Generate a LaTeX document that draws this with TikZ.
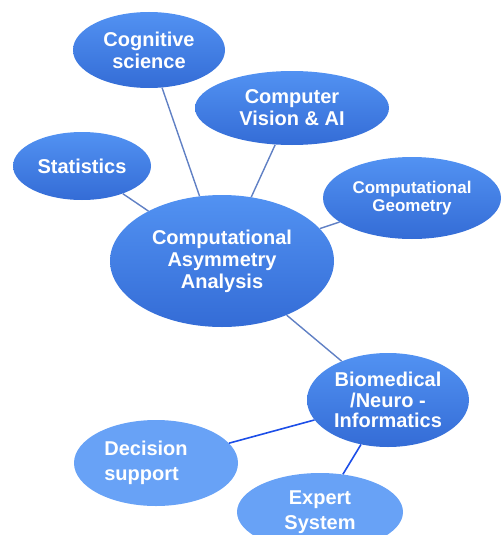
\documentclass[tikz,border=0pt]{standalone}
\usepackage{fontspec}
\setmainfont{Liberation Sans}
\usetikzlibrary{shapes.geometric}

\definecolor{blobtop}{RGB}{82,146,242}
\definecolor{blobbot}{RGB}{52,108,214}
\definecolor{blobpale}{RGB}{104,162,246}
\definecolor{linkgrey}{RGB}{96,128,196}
\definecolor{linkblue}{RGB}{28,78,232}

\begin{document}
\begin{tikzpicture}[x=1pt,y=-1pt,
        main node/.style={ellipse,inner sep=0pt,text=white,align=center,
          top color=blobtop,bottom color=blobbot,
          font=\bfseries\fontsize{20}{22}\selectfont},
        pale node/.style={main node,top color=blobpale,bottom color=blobpale,
          font=\bfseries\fontsize{20}{25}\selectfont},
        link/.style={draw=linkgrey,line width=1.4pt},
        pale link/.style={draw=linkblue,line width=1.6pt}]

        \clip (0,0) rectangle (502,535);

        % hub and the fields around it
        \node[main node,minimum width=224pt,minimum height=132pt] (caa) at (222,261)
          {Computational\\Asymmetry\\Analysis};
        \node[main node,minimum width=152pt,minimum height=76pt] (cog) at (149,50)
          {Cognitive\\science};
        \node[main node,minimum width=194pt,minimum height=74pt] (cvai) at (292,108)
          {Computer\\Vision \& AI};
        \node[main node,minimum width=138pt,minimum height=68pt] (stat) at (82,166)
          {Statistics};
        \node[main node,minimum width=178pt,minimum height=82pt,
          font=\bfseries\fontsize{17}{18}\selectfont] (geom) at (412,198)
          {Computational\\Geometry};
        \node[main node,minimum width=162pt,minimum height=94pt,
          font=\bfseries\fontsize{20}{20.5}\selectfont] (bio) at (388,400)
          {Biomedical\\/Neuro -\\Informatics};

        % applications
        \node[pale node,minimum width=164pt,minimum height=86pt,align=left] (dec) at (156,463)
          {\hspace*{-20pt}Decision\\\hspace*{-20pt}support};
        \node[pale node,minimum width=166pt,minimum height=78pt] (exp) at (320,512)
          {Expert\\System};

        \path
          (cog) edge[link] (caa)
          (cvai) edge[link] (caa)
          (stat) edge[link] (caa)
          (geom) edge[link] (caa)
          (caa) edge[link] (bio)
          (bio) edge[pale link] (dec)
          (bio) edge[pale link] (exp)
          ;
\end{tikzpicture}
\end{document}
